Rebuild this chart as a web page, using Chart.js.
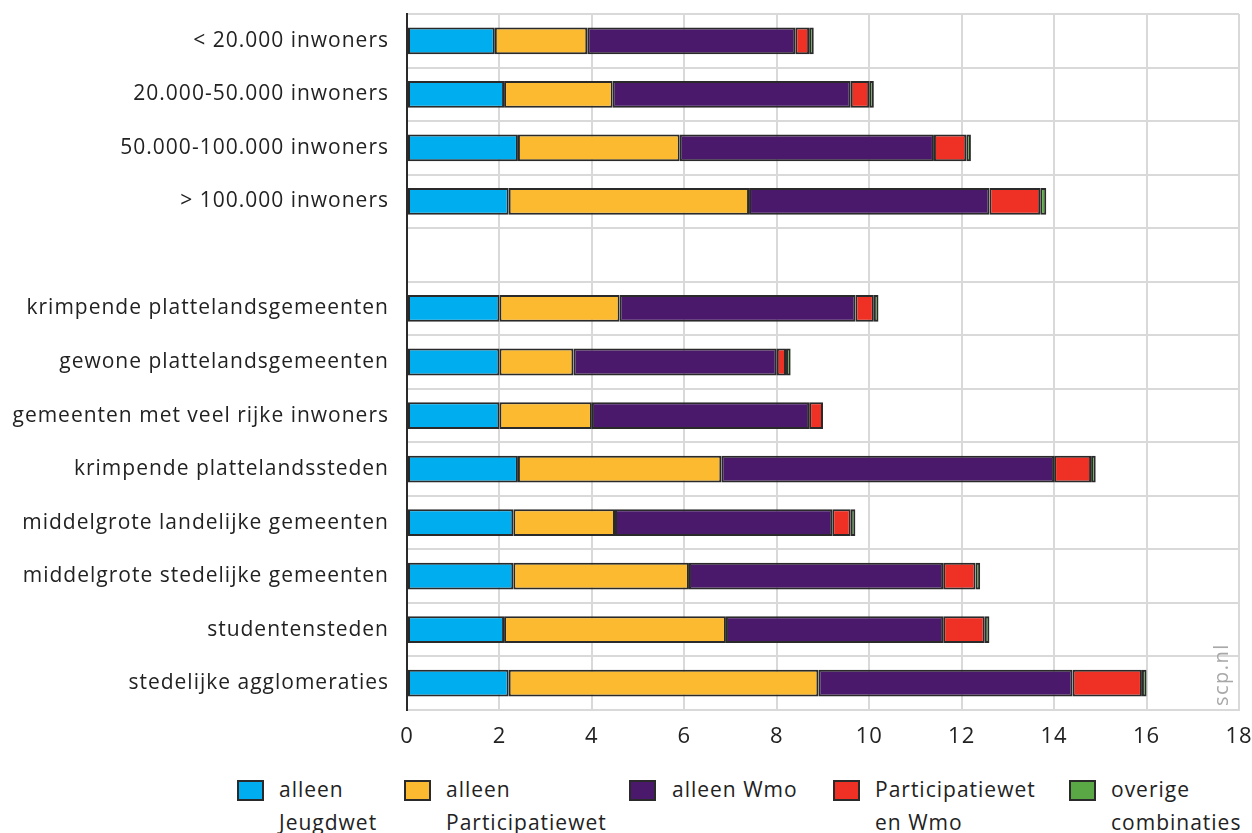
<!DOCTYPE html>
<html>
<head>
<meta charset="utf-8">
<script src="https://cdn.jsdelivr.net/npm/chart.js@4"></script>
<style>
  body { margin: 0; background: #fff; font-family: "Open Sans", sans-serif; }
  #wrap { position: relative; width: 1252px; height: 833px; overflow: hidden; }
  #chart { position: absolute; left: 0; top: 0; }
  .leg { position: absolute; top: 773px; font-size: 21px; line-height: 33px; letter-spacing: 1px; color: #222; }
  .leg .box { position: absolute; left: 0; top: 7px; width: 23px; height: 17px; border: 2px solid #2a2a2a; }
  .leg .txt { position: absolute; white-space: nowrap; }
</style>
</head>
<body>
<div id="wrap">
  <canvas id="chart" width="1252" height="760"></canvas>
  <div id="legend"></div>
</div>
<script>
// Categorieën (lege rij = witruimte tussen de twee groepen)
var categorieen = [
    "< 20.000 inwoners",
    "20.000-50.000 inwoners",
    "50.000-100.000 inwoners",
    "> 100.000 inwoners",
    "",
    "krimpende plattelandsgemeenten",
    "gewone plattelandsgemeenten",
    "gemeenten met veel rijke inwoners",
    "krimpende plattelandssteden",
    "middelgrote landelijke gemeenten",
    "middelgrote stedelijke gemeenten",
    "studentensteden",
    "stedelijke agglomeraties"
];

// Waarden per reeks (procenten)
var alleenJeugdwet      = [1.9, 2.1, 2.4, 2.2, null, 2.0, 2.0, 2.0, 2.4, 2.3, 2.3, 2.1, 2.2];
var alleenParticipatie  = [2.0, 2.35, 3.5, 5.2, null, 2.6, 1.6, 2.0, 4.4, 2.2, 3.8, 4.8, 6.7];
var alleenWmo           = [4.5, 5.15, 5.5, 5.2, null, 5.1, 4.4, 4.7, 7.2, 4.7, 5.5, 4.7, 5.5];
var participatieEnWmo   = [0.3, 0.4, 0.7, 1.1, null, 0.4, 0.2, 0.3, 0.8, 0.4, 0.7, 0.9, 1.5];
var overigeCombinaties  = [0.1, 0.1, 0.1, 0.13, null, 0.1, 0.1, null, 0.1, 0.1, 0.1, 0.1, 0.1];

var xTicks = [0, 2, 4, 6, 8, 10, 12, 14, 16, 18];

var reeksen = [
    {label: ["alleen", "Jeugdwet"], data: alleenJeugdwet, kleur: "#00aeef", links: 237},
    {label: ["alleen", "Participatiewet"], data: alleenParticipatie, kleur: "#fbba2f", links: 404},
    {label: ["alleen Wmo"], data: alleenWmo, kleur: "#4a196b", links: 629},
    {label: ["Participatiewet", "en Wmo"], data: participatieEnWmo, kleur: "#ee3124", links: 833},
    {label: ["overige", "combinaties"], data: overigeCombinaties, kleur: "#5aa845", links: 1069}
];

var lijnKleur = "#2a2a2a";
var gridKleur = "#d9d9d9";

// Iets meer letterafstand, zoals in het origineel
var spatiering = {
    id: "spatiering",
    beforeUpdate: function(chart) { chart.ctx.letterSpacing = "1px"; },
    beforeLayout: function(chart) { chart.ctx.letterSpacing = "1px"; },
    beforeDraw: function(chart) { chart.ctx.letterSpacing = "1px"; }
};

// Watermerk scp.nl
var watermerk = {
    id: "watermerk",
    afterDraw: function(chart) {
        var ctx = chart.ctx;
        ctx.save();
        ctx.translate(1222, 706);
        ctx.rotate(-Math.PI / 2);
        ctx.font = "20px 'Open Sans'";
        ctx.letterSpacing = "1.5px";
        ctx.fillStyle = "#a8a8a8";
        ctx.textAlign = "left";
        ctx.textBaseline = "middle";
        ctx.fillText("scp.nl", 0, 0);
        ctx.restore();
    }
};

var ctx = document.getElementById("chart").getContext("2d");
var chart = new Chart(ctx, {
    type: "bar",
    data: {
        labels: categorieen,
        datasets: reeksen.map(function(r) {
            return {
                label: r.label.join(" "),
                data: r.data,
                backgroundColor: r.kleur,
                borderColor: lijnKleur,
                borderWidth: 2,
                borderSkipped: false,
                barPercentage: 0.5,
                categoryPercentage: 1
            };
        })
    },
    options: {
        indexAxis: "y",
        responsive: false,
        animation: false,
        layout: {padding: {left: 0, right: 0, top: 0, bottom: 0}},
        plugins: {
            legend: {display: false},
            tooltip: {enabled: false}
        },
        scales: {
            x: {
                stacked: true,
                min: 0,
                max: 18,
                afterBuildTicks: function(scale) {
                    scale.ticks = xTicks.map(function(v) { return {value: v}; });
                },
                afterFit: function(scale) {
                    scale.height = 50;
                    scale.paddingRight = 13;
                },
                grid: {color: gridKleur, lineWidth: 2, drawTicks: false},
                border: {color: gridKleur, width: 2},
                ticks: {
                    color: "#222",
                    padding: 14,
                    font: {family: "'Open Sans'", size: 22}
                }
            },
            y: {
                stacked: true,
                afterFit: function(scale) {
                    scale.width = 407;
                    scale.paddingTop = 14;
                    scale.paddingBottom = 0;
                },
                grid: {color: gridKleur, lineWidth: 2, drawTicks: false},
                border: {color: lijnKleur, width: 2},
                ticks: {
                    color: "#222",
                    padding: 18,
                    autoSkip: false,
                    font: {family: "'Open Sans'", size: 21}
                }
            }
        }
    },
    plugins: [spatiering, watermerk]
});

// Legenda met labels over twee regels
var legenda = document.getElementById("legend");
reeksen.forEach(function(r) {
    var item = document.createElement("div");
    item.className = "leg";
    item.style.left = r.links + "px";
    var box = document.createElement("div");
    box.className = "box";
    box.style.background = r.kleur;
    var txt = document.createElement("div");
    txt.className = "txt";
    txt.style.left = (r.links === 629 ? 43 : 42) + "px";
    txt.innerHTML = r.label.join("<br>");
    item.appendChild(box);
    item.appendChild(txt);
    legenda.appendChild(item);
});
</script>
</body>
</html>
